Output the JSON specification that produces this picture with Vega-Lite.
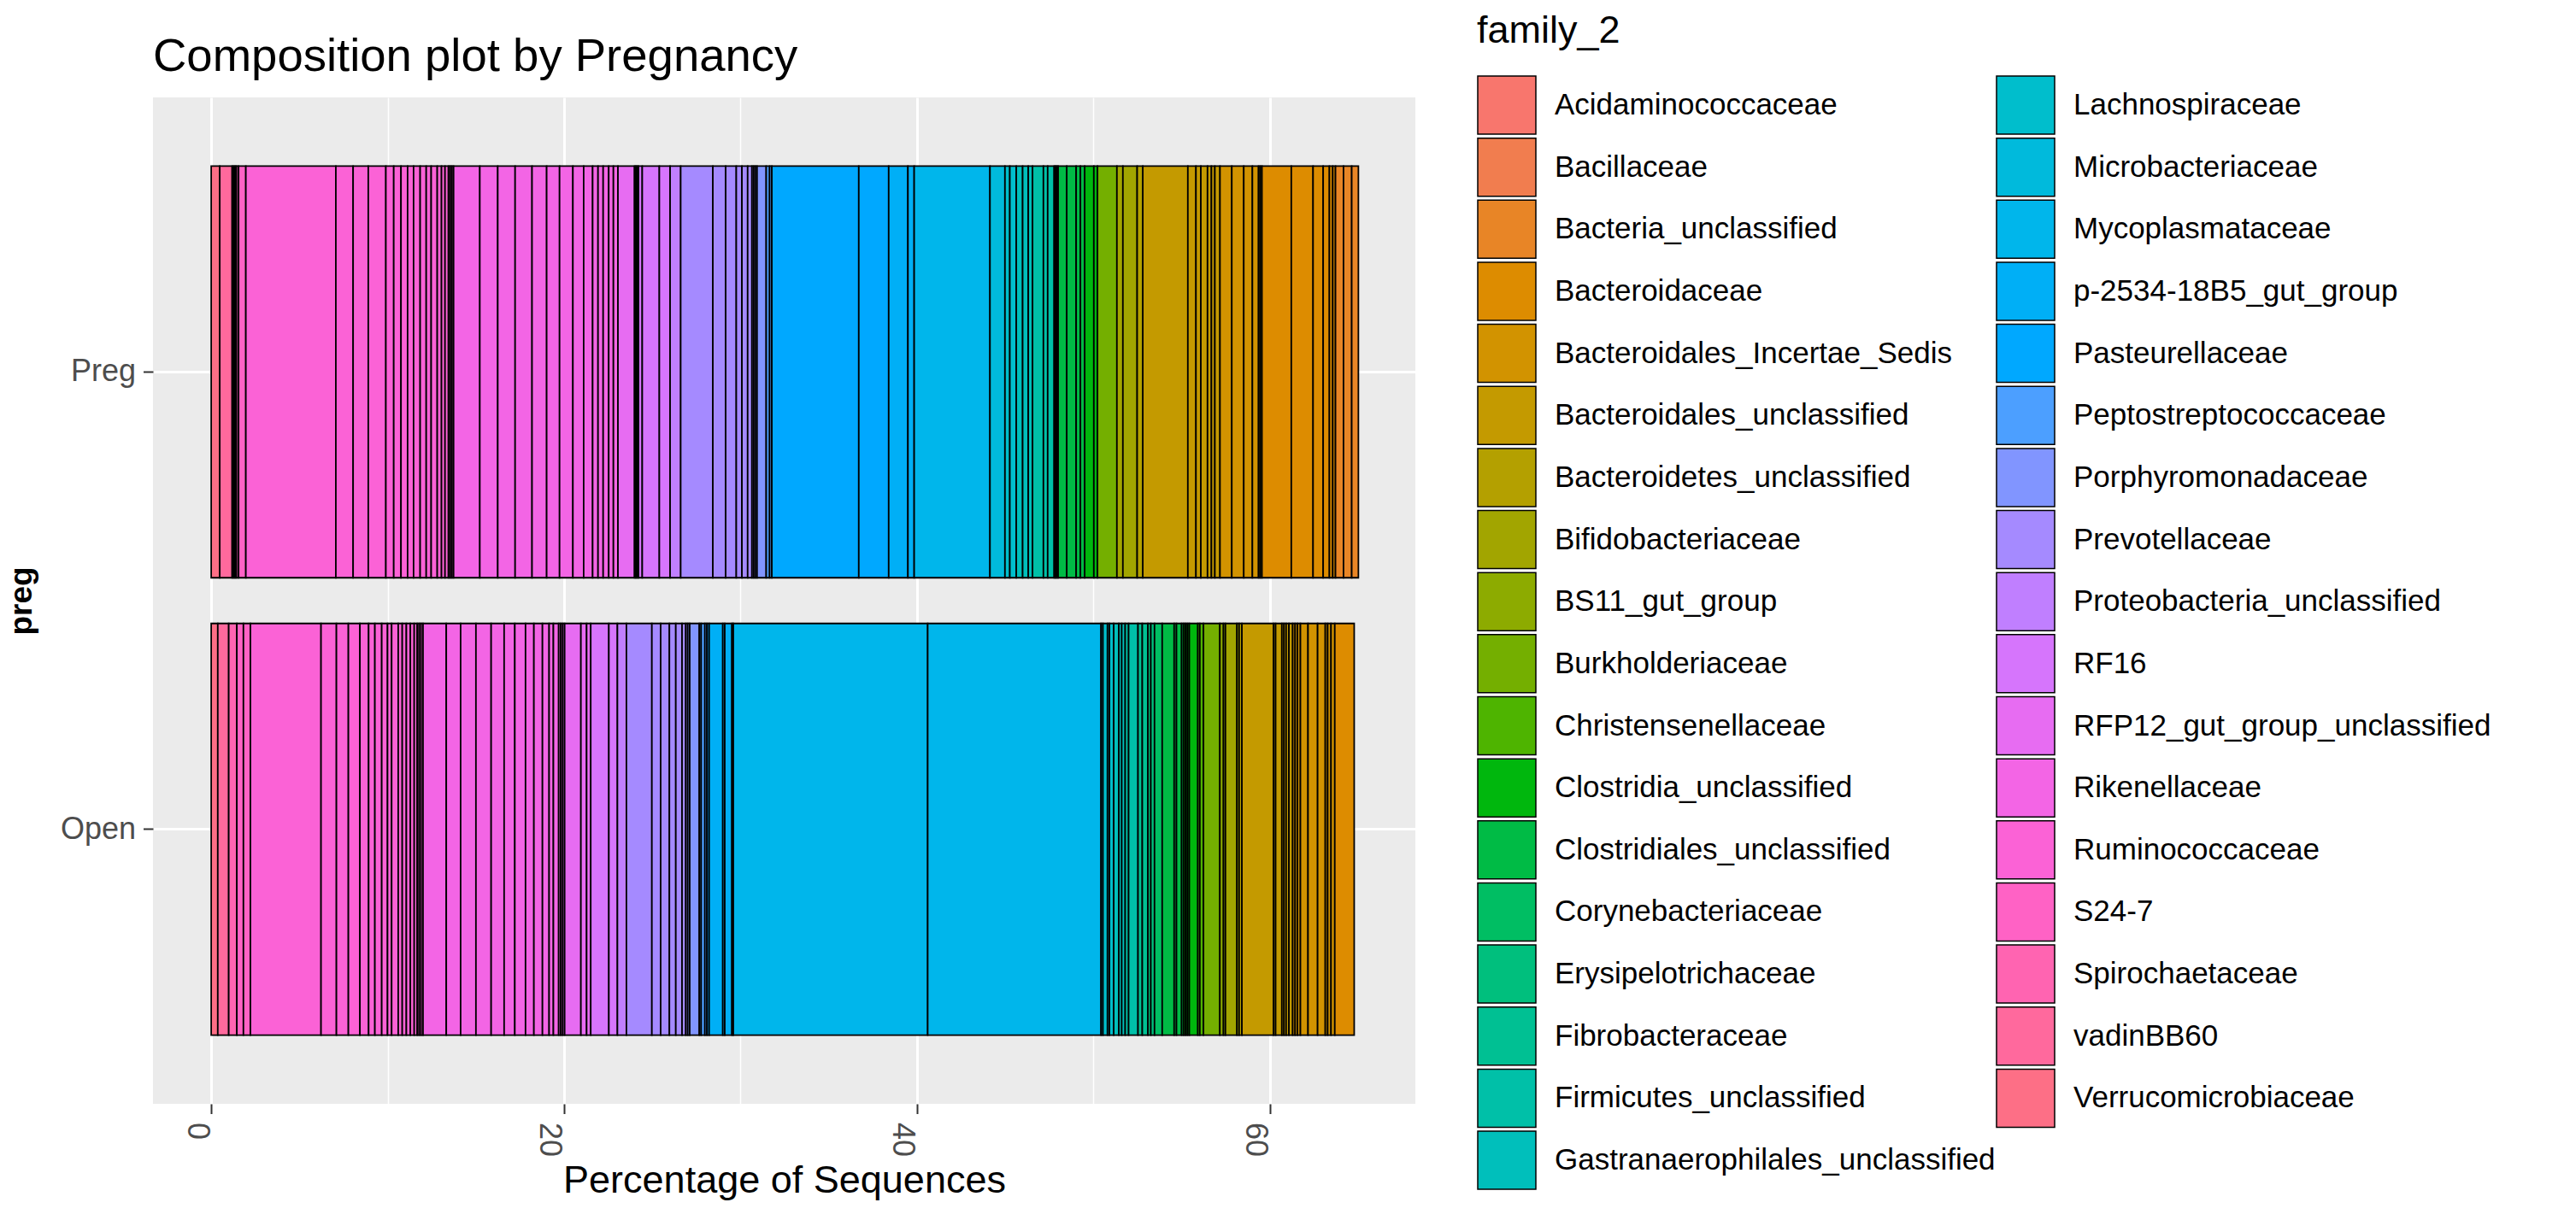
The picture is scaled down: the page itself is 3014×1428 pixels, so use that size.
{
  "$schema": "https://vega.github.io/schema/vega-lite/v6.json",
  "width": 1477,
  "height": 1178,
  "autosize": {"type": "none"},
  "padding": {"left": 179, "top": 114, "right": 1358, "bottom": 136},
  "background": "white",
  "config": {
    "font": "Liberation Sans",
    "view": {"fill": "#EBEBEB", "stroke": null}
  },
  "title": {
    "text": "Composition plot by Pregnancy",
    "anchor": "start",
    "frame": "group",
    "fontSize": 54.5,
    "fontWeight": "normal",
    "color": "black",
    "baseline": "alphabetic",
    "offset": -123
  },
  "data": {
    "values": [
      {"preg": "Preg", "seg": 1, "family_2": "Verrucomicrobiaceae", "pct": 0.485},
      {"preg": "Preg", "seg": 2, "family_2": "vadinBB60", "pct": 0.703},
      {"preg": "Preg", "seg": 3, "family_2": "Spirochaetaceae", "pct": 0.082},
      {"preg": "Preg", "seg": 4, "family_2": "Spirochaetaceae", "pct": 0.082},
      {"preg": "Preg", "seg": 5, "family_2": "Spirochaetaceae", "pct": 0.078},
      {"preg": "Preg", "seg": 6, "family_2": "S24-7", "pct": 0.121},
      {"preg": "Preg", "seg": 7, "family_2": "S24-7", "pct": 0.412},
      {"preg": "Preg", "seg": 8, "family_2": "Ruminococcaceae", "pct": 5.102},
      {"preg": "Preg", "seg": 9, "family_2": "Ruminococcaceae", "pct": 0.979},
      {"preg": "Preg", "seg": 10, "family_2": "Ruminococcaceae", "pct": 0.858},
      {"preg": "Preg", "seg": 11, "family_2": "Ruminococcaceae", "pct": 0.998},
      {"preg": "Preg", "seg": 12, "family_2": "Ruminococcaceae", "pct": 0.446},
      {"preg": "Preg", "seg": 13, "family_2": "Ruminococcaceae", "pct": 0.412},
      {"preg": "Preg", "seg": 14, "family_2": "Ruminococcaceae", "pct": 0.373},
      {"preg": "Preg", "seg": 15, "family_2": "Ruminococcaceae", "pct": 0.339},
      {"preg": "Preg", "seg": 16, "family_2": "Ruminococcaceae", "pct": 0.373},
      {"preg": "Preg", "seg": 17, "family_2": "Ruminococcaceae", "pct": 0.344},
      {"preg": "Preg", "seg": 18, "family_2": "Ruminococcaceae", "pct": 0.281},
      {"preg": "Preg", "seg": 19, "family_2": "Ruminococcaceae", "pct": 0.344},
      {"preg": "Preg", "seg": 20, "family_2": "Ruminococcaceae", "pct": 0.242},
      {"preg": "Preg", "seg": 21, "family_2": "Ruminococcaceae", "pct": 0.199},
      {"preg": "Preg", "seg": 22, "family_2": "Ruminococcaceae", "pct": 0.194},
      {"preg": "Preg", "seg": 23, "family_2": "Ruminococcaceae", "pct": 0.097},
      {"preg": "Preg", "seg": 24, "family_2": "Ruminococcaceae", "pct": 0.097},
      {"preg": "Preg", "seg": 25, "family_2": "Ruminococcaceae", "pct": 0.097},
      {"preg": "Preg", "seg": 26, "family_2": "Rikenellaceae", "pct": 1.487},
      {"preg": "Preg", "seg": 27, "family_2": "Rikenellaceae", "pct": 1.017},
      {"preg": "Preg", "seg": 28, "family_2": "Rikenellaceae", "pct": 0.984},
      {"preg": "Preg", "seg": 29, "family_2": "Rikenellaceae", "pct": 0.959},
      {"preg": "Preg", "seg": 30, "family_2": "Rikenellaceae", "pct": 0.828},
      {"preg": "Preg", "seg": 31, "family_2": "Rikenellaceae", "pct": 0.732},
      {"preg": "Preg", "seg": 32, "family_2": "Rikenellaceae", "pct": 0.756},
      {"preg": "Preg", "seg": 33, "family_2": "Rikenellaceae", "pct": 0.610},
      {"preg": "Preg", "seg": 34, "family_2": "Rikenellaceae", "pct": 0.509},
      {"preg": "Preg", "seg": 35, "family_2": "Rikenellaceae", "pct": 0.305},
      {"preg": "Preg", "seg": 36, "family_2": "Rikenellaceae", "pct": 0.291},
      {"preg": "Preg", "seg": 37, "family_2": "Rikenellaceae", "pct": 0.315},
      {"preg": "Preg", "seg": 38, "family_2": "Rikenellaceae", "pct": 0.266},
      {"preg": "Preg", "seg": 39, "family_2": "Rikenellaceae", "pct": 0.257},
      {"preg": "Preg", "seg": 40, "family_2": "RFP12_gut_group_unclassified", "pct": 0.940},
      {"preg": "Preg", "seg": 41, "family_2": "RFP12_gut_group_unclassified", "pct": 0.073},
      {"preg": "Preg", "seg": 42, "family_2": "RFP12_gut_group_unclassified", "pct": 0.073},
      {"preg": "Preg", "seg": 43, "family_2": "RF16", "pct": 0.078},
      {"preg": "Preg", "seg": 44, "family_2": "RF16", "pct": 0.213},
      {"preg": "Preg", "seg": 45, "family_2": "RF16", "pct": 0.969},
      {"preg": "Preg", "seg": 46, "family_2": "RF16", "pct": 0.610},
      {"preg": "Preg", "seg": 47, "family_2": "Proteobacteria_unclassified", "pct": 0.601},
      {"preg": "Preg", "seg": 48, "family_2": "Prevotellaceae", "pct": 1.822},
      {"preg": "Preg", "seg": 49, "family_2": "Prevotellaceae", "pct": 0.727},
      {"preg": "Preg", "seg": 50, "family_2": "Prevotellaceae", "pct": 0.601},
      {"preg": "Preg", "seg": 51, "family_2": "Prevotellaceae", "pct": 0.320},
      {"preg": "Preg", "seg": 52, "family_2": "Prevotellaceae", "pct": 0.325},
      {"preg": "Preg", "seg": 53, "family_2": "Prevotellaceae", "pct": 0.242},
      {"preg": "Preg", "seg": 54, "family_2": "Prevotellaceae", "pct": 0.097},
      {"preg": "Preg", "seg": 55, "family_2": "Prevotellaceae", "pct": 0.097},
      {"preg": "Preg", "seg": 56, "family_2": "Porphyromonadaceae", "pct": 0.097},
      {"preg": "Preg", "seg": 57, "family_2": "Porphyromonadaceae", "pct": 0.518},
      {"preg": "Preg", "seg": 58, "family_2": "Peptostreptococcaceae", "pct": 0.194},
      {"preg": "Preg", "seg": 59, "family_2": "Peptostreptococcaceae", "pct": 0.126},
      {"preg": "Preg", "seg": 60, "family_2": "Pasteurellaceae", "pct": 4.927},
      {"preg": "Preg", "seg": 61, "family_2": "Pasteurellaceae", "pct": 1.696},
      {"preg": "Preg", "seg": 62, "family_2": "p-2534-18B5_gut_group", "pct": 1.090},
      {"preg": "Preg", "seg": 63, "family_2": "p-2534-18B5_gut_group", "pct": 0.354},
      {"preg": "Preg", "seg": 64, "family_2": "Mycoplasmataceae", "pct": 4.297},
      {"preg": "Preg", "seg": 65, "family_2": "Microbacteriaceae", "pct": 0.848},
      {"preg": "Preg", "seg": 66, "family_2": "Lachnospiraceae", "pct": 0.276},
      {"preg": "Preg", "seg": 67, "family_2": "Lachnospiraceae", "pct": 0.368},
      {"preg": "Preg", "seg": 68, "family_2": "Gastranaerophilales_unclassified", "pct": 0.359},
      {"preg": "Preg", "seg": 69, "family_2": "Gastranaerophilales_unclassified", "pct": 0.320},
      {"preg": "Preg", "seg": 70, "family_2": "Gastranaerophilales_unclassified", "pct": 0.242},
      {"preg": "Preg", "seg": 71, "family_2": "Firmicutes_unclassified", "pct": 0.615},
      {"preg": "Preg", "seg": 72, "family_2": "Firmicutes_unclassified", "pct": 0.242},
      {"preg": "Preg", "seg": 73, "family_2": "Firmicutes_unclassified", "pct": 0.368},
      {"preg": "Preg", "seg": 74, "family_2": "Fibrobacteraceae", "pct": 0.073},
      {"preg": "Preg", "seg": 75, "family_2": "Erysipelotrichaceae", "pct": 0.073},
      {"preg": "Preg", "seg": 76, "family_2": "Corynebacteriaceae", "pct": 0.078},
      {"preg": "Preg", "seg": 77, "family_2": "Clostridiales_unclassified", "pct": 0.489},
      {"preg": "Preg", "seg": 78, "family_2": "Clostridiales_unclassified", "pct": 0.533},
      {"preg": "Preg", "seg": 79, "family_2": "Clostridiales_unclassified", "pct": 0.242},
      {"preg": "Preg", "seg": 80, "family_2": "Clostridiales_unclassified", "pct": 0.242},
      {"preg": "Preg", "seg": 81, "family_2": "Clostridia_unclassified", "pct": 0.518},
      {"preg": "Preg", "seg": 82, "family_2": "Clostridia_unclassified", "pct": 0.208},
      {"preg": "Preg", "seg": 83, "family_2": "Burkholderiaceae", "pct": 1.100},
      {"preg": "Preg", "seg": 84, "family_2": "Bifidobacteriaceae", "pct": 0.339},
      {"preg": "Preg", "seg": 85, "family_2": "Bifidobacteriaceae", "pct": 0.809},
      {"preg": "Preg", "seg": 86, "family_2": "Bacteroidetes_unclassified", "pct": 0.320},
      {"preg": "Preg", "seg": 87, "family_2": "Bacteroidales_unclassified", "pct": 2.553},
      {"preg": "Preg", "seg": 88, "family_2": "Bacteroidales_unclassified", "pct": 0.460},
      {"preg": "Preg", "seg": 89, "family_2": "Bacteroidales_unclassified", "pct": 0.276},
      {"preg": "Preg", "seg": 90, "family_2": "Bacteroidales_unclassified", "pct": 0.378},
      {"preg": "Preg", "seg": 91, "family_2": "Bacteroidales_unclassified", "pct": 0.223},
      {"preg": "Preg", "seg": 92, "family_2": "Bacteroidales_unclassified", "pct": 0.194},
      {"preg": "Preg", "seg": 93, "family_2": "Bacteroidales_unclassified", "pct": 0.291},
      {"preg": "Preg", "seg": 94, "family_2": "Bacteroidales_Incertae_Sedis", "pct": 0.669},
      {"preg": "Preg", "seg": 95, "family_2": "Bacteroidales_Incertae_Sedis", "pct": 0.678},
      {"preg": "Preg", "seg": 96, "family_2": "Bacteroidales_Incertae_Sedis", "pct": 0.489},
      {"preg": "Preg", "seg": 97, "family_2": "Bacteroidales_Incertae_Sedis", "pct": 0.349},
      {"preg": "Preg", "seg": 98, "family_2": "Bacteroidales_Incertae_Sedis", "pct": 0.097},
      {"preg": "Preg", "seg": 99, "family_2": "Bacteroidales_Incertae_Sedis", "pct": 0.097},
      {"preg": "Preg", "seg": 100, "family_2": "Bacteroidaceae", "pct": 1.662},
      {"preg": "Preg", "seg": 101, "family_2": "Bacteroidaceae", "pct": 1.235},
      {"preg": "Preg", "seg": 102, "family_2": "Bacteroidaceae", "pct": 0.572},
      {"preg": "Preg", "seg": 103, "family_2": "Bacteroidaceae", "pct": 0.354},
      {"preg": "Preg", "seg": 104, "family_2": "Bacteroidaceae", "pct": 0.189},
      {"preg": "Preg", "seg": 105, "family_2": "Bacteroidaceae", "pct": 0.155},
      {"preg": "Preg", "seg": 106, "family_2": "Bacteria_unclassified", "pct": 0.455},
      {"preg": "Preg", "seg": 107, "family_2": "Bacteria_unclassified", "pct": 0.465},
      {"preg": "Preg", "seg": 108, "family_2": "Bacteria_unclassified", "pct": 0.378},
      {"preg": "Open", "seg": 1, "family_2": "Verrucomicrobiaceae", "pct": 0.373},
      {"preg": "Open", "seg": 2, "family_2": "vadinBB60", "pct": 0.620},
      {"preg": "Open", "seg": 3, "family_2": "Spirochaetaceae", "pct": 0.460},
      {"preg": "Open", "seg": 4, "family_2": "S24-7", "pct": 0.373},
      {"preg": "Open", "seg": 5, "family_2": "S24-7", "pct": 0.397},
      {"preg": "Open", "seg": 6, "family_2": "Ruminococcaceae", "pct": 4.002},
      {"preg": "Open", "seg": 7, "family_2": "Ruminococcaceae", "pct": 0.872},
      {"preg": "Open", "seg": 8, "family_2": "Ruminococcaceae", "pct": 0.678},
      {"preg": "Open", "seg": 9, "family_2": "Ruminococcaceae", "pct": 0.654},
      {"preg": "Open", "seg": 10, "family_2": "Ruminococcaceae", "pct": 0.494},
      {"preg": "Open", "seg": 11, "family_2": "Ruminococcaceae", "pct": 0.354},
      {"preg": "Open", "seg": 12, "family_2": "Ruminococcaceae", "pct": 0.388},
      {"preg": "Open", "seg": 13, "family_2": "Ruminococcaceae", "pct": 0.329},
      {"preg": "Open", "seg": 14, "family_2": "Ruminococcaceae", "pct": 0.233},
      {"preg": "Open", "seg": 15, "family_2": "Ruminococcaceae", "pct": 0.373},
      {"preg": "Open", "seg": 16, "family_2": "Ruminococcaceae", "pct": 0.228},
      {"preg": "Open", "seg": 17, "family_2": "Ruminococcaceae", "pct": 0.233},
      {"preg": "Open", "seg": 18, "family_2": "Ruminococcaceae", "pct": 0.228},
      {"preg": "Open", "seg": 19, "family_2": "Ruminococcaceae", "pct": 0.218},
      {"preg": "Open", "seg": 20, "family_2": "Ruminococcaceae", "pct": 0.170},
      {"preg": "Open", "seg": 21, "family_2": "Ruminococcaceae", "pct": 0.111},
      {"preg": "Open", "seg": 22, "family_2": "Ruminococcaceae", "pct": 0.107},
      {"preg": "Open", "seg": 23, "family_2": "Ruminococcaceae", "pct": 0.111},
      {"preg": "Open", "seg": 24, "family_2": "Rikenellaceae", "pct": 1.318},
      {"preg": "Open", "seg": 25, "family_2": "Rikenellaceae", "pct": 0.814},
      {"preg": "Open", "seg": 26, "family_2": "Rikenellaceae", "pct": 0.867},
      {"preg": "Open", "seg": 27, "family_2": "Rikenellaceae", "pct": 0.862},
      {"preg": "Open", "seg": 28, "family_2": "Rikenellaceae", "pct": 0.736},
      {"preg": "Open", "seg": 29, "family_2": "Rikenellaceae", "pct": 0.606},
      {"preg": "Open", "seg": 30, "family_2": "Rikenellaceae", "pct": 0.606},
      {"preg": "Open", "seg": 31, "family_2": "Rikenellaceae", "pct": 0.475},
      {"preg": "Open", "seg": 32, "family_2": "Rikenellaceae", "pct": 0.485},
      {"preg": "Open", "seg": 33, "family_2": "Rikenellaceae", "pct": 0.378},
      {"preg": "Open", "seg": 34, "family_2": "Rikenellaceae", "pct": 0.242},
      {"preg": "Open", "seg": 35, "family_2": "Rikenellaceae", "pct": 0.300},
      {"preg": "Open", "seg": 36, "family_2": "Rikenellaceae", "pct": 0.111},
      {"preg": "Open", "seg": 37, "family_2": "Rikenellaceae", "pct": 0.116},
      {"preg": "Open", "seg": 38, "family_2": "RFP12_gut_group_unclassified", "pct": 0.111},
      {"preg": "Open", "seg": 39, "family_2": "RFP12_gut_group_unclassified", "pct": 0.921},
      {"preg": "Open", "seg": 40, "family_2": "RFP12_gut_group_unclassified", "pct": 0.325},
      {"preg": "Open", "seg": 41, "family_2": "RFP12_gut_group_unclassified", "pct": 0.233},
      {"preg": "Open", "seg": 42, "family_2": "RF16", "pct": 1.027},
      {"preg": "Open", "seg": 43, "family_2": "RF16", "pct": 0.485},
      {"preg": "Open", "seg": 44, "family_2": "Proteobacteria_unclassified", "pct": 0.509},
      {"preg": "Open", "seg": 45, "family_2": "Prevotellaceae", "pct": 1.444},
      {"preg": "Open", "seg": 46, "family_2": "Prevotellaceae", "pct": 0.499},
      {"preg": "Open", "seg": 47, "family_2": "Prevotellaceae", "pct": 0.494},
      {"preg": "Open", "seg": 48, "family_2": "Prevotellaceae", "pct": 0.363},
      {"preg": "Open", "seg": 49, "family_2": "Prevotellaceae", "pct": 0.354},
      {"preg": "Open", "seg": 50, "family_2": "Prevotellaceae", "pct": 0.213},
      {"preg": "Open", "seg": 51, "family_2": "Prevotellaceae", "pct": 0.111},
      {"preg": "Open", "seg": 52, "family_2": "Porphyromonadaceae", "pct": 0.111},
      {"preg": "Open", "seg": 53, "family_2": "Porphyromonadaceae", "pct": 0.543},
      {"preg": "Open", "seg": 54, "family_2": "Peptostreptococcaceae", "pct": 0.107},
      {"preg": "Open", "seg": 55, "family_2": "Peptostreptococcaceae", "pct": 0.208},
      {"preg": "Open", "seg": 56, "family_2": "Peptostreptococcaceae", "pct": 0.121},
      {"preg": "Open", "seg": 57, "family_2": "Pasteurellaceae", "pct": 0.121},
      {"preg": "Open", "seg": 58, "family_2": "p-2534-18B5_gut_group", "pct": 0.775},
      {"preg": "Open", "seg": 59, "family_2": "p-2534-18B5_gut_group", "pct": 0.111},
      {"preg": "Open", "seg": 60, "family_2": "p-2534-18B5_gut_group", "pct": 0.407},
      {"preg": "Open", "seg": 61, "family_2": "p-2534-18B5_gut_group", "pct": 0.078},
      {"preg": "Open", "seg": 62, "family_2": "Mycoplasmataceae", "pct": 11.018},
      {"preg": "Open", "seg": 63, "family_2": "Mycoplasmataceae", "pct": 9.826},
      {"preg": "Open", "seg": 64, "family_2": "Microbacteriaceae", "pct": 0.107},
      {"preg": "Open", "seg": 65, "family_2": "Lachnospiraceae", "pct": 0.257},
      {"preg": "Open", "seg": 66, "family_2": "Lachnospiraceae", "pct": 0.111},
      {"preg": "Open", "seg": 67, "family_2": "Lachnospiraceae", "pct": 0.242},
      {"preg": "Open", "seg": 68, "family_2": "Gastranaerophilales_unclassified", "pct": 0.291},
      {"preg": "Open", "seg": 69, "family_2": "Gastranaerophilales_unclassified", "pct": 0.165},
      {"preg": "Open", "seg": 70, "family_2": "Gastranaerophilales_unclassified", "pct": 0.194},
      {"preg": "Open", "seg": 71, "family_2": "Firmicutes_unclassified", "pct": 0.194},
      {"preg": "Open", "seg": 72, "family_2": "Firmicutes_unclassified", "pct": 0.533},
      {"preg": "Open", "seg": 73, "family_2": "Fibrobacteraceae", "pct": 0.242},
      {"preg": "Open", "seg": 74, "family_2": "Fibrobacteraceae", "pct": 0.320},
      {"preg": "Open", "seg": 75, "family_2": "Erysipelotrichaceae", "pct": 0.165},
      {"preg": "Open", "seg": 76, "family_2": "Erysipelotrichaceae", "pct": 0.208},
      {"preg": "Open", "seg": 77, "family_2": "Corynebacteriaceae", "pct": 0.436},
      {"preg": "Open", "seg": 78, "family_2": "Clostridiales_unclassified", "pct": 0.678},
      {"preg": "Open", "seg": 79, "family_2": "Clostridiales_unclassified", "pct": 0.131},
      {"preg": "Open", "seg": 80, "family_2": "Clostridiales_unclassified", "pct": 0.291},
      {"preg": "Open", "seg": 81, "family_2": "Clostridiales_unclassified", "pct": 0.111},
      {"preg": "Open", "seg": 82, "family_2": "Clostridia_unclassified", "pct": 0.107},
      {"preg": "Open", "seg": 83, "family_2": "Clostridia_unclassified", "pct": 0.111},
      {"preg": "Open", "seg": 84, "family_2": "Clostridia_unclassified", "pct": 0.107},
      {"preg": "Open", "seg": 85, "family_2": "Clostridia_unclassified", "pct": 0.485},
      {"preg": "Open", "seg": 86, "family_2": "Christensenellaceae", "pct": 0.111},
      {"preg": "Open", "seg": 87, "family_2": "Christensenellaceae", "pct": 0.208},
      {"preg": "Open", "seg": 88, "family_2": "Burkholderiaceae", "pct": 0.930},
      {"preg": "Open", "seg": 89, "family_2": "BS11_gut_group", "pct": 0.203},
      {"preg": "Open", "seg": 90, "family_2": "BS11_gut_group", "pct": 0.111},
      {"preg": "Open", "seg": 91, "family_2": "Bifidobacteriaceae", "pct": 0.654},
      {"preg": "Open", "seg": 92, "family_2": "Bifidobacteriaceae", "pct": 0.121},
      {"preg": "Open", "seg": 93, "family_2": "Bacteroidetes_unclassified", "pct": 0.160},
      {"preg": "Open", "seg": 94, "family_2": "Bacteroidales_unclassified", "pct": 1.793},
      {"preg": "Open", "seg": 95, "family_2": "Bacteroidales_unclassified", "pct": 0.116},
      {"preg": "Open", "seg": 96, "family_2": "Bacteroidales_unclassified", "pct": 0.354},
      {"preg": "Open", "seg": 97, "family_2": "Bacteroidales_unclassified", "pct": 0.121},
      {"preg": "Open", "seg": 98, "family_2": "Bacteroidales_unclassified", "pct": 0.121},
      {"preg": "Open", "seg": 99, "family_2": "Bacteroidales_unclassified", "pct": 0.160},
      {"preg": "Open", "seg": 100, "family_2": "Bacteroidales_unclassified", "pct": 0.213},
      {"preg": "Open", "seg": 101, "family_2": "Bacteroidales_Incertae_Sedis", "pct": 0.136},
      {"preg": "Open", "seg": 102, "family_2": "Bacteroidales_Incertae_Sedis", "pct": 0.136},
      {"preg": "Open", "seg": 103, "family_2": "Bacteroidales_Incertae_Sedis", "pct": 0.165},
      {"preg": "Open", "seg": 104, "family_2": "Bacteroidales_Incertae_Sedis", "pct": 0.431},
      {"preg": "Open", "seg": 105, "family_2": "Bacteroidales_Incertae_Sedis", "pct": 0.543},
      {"preg": "Open", "seg": 106, "family_2": "Bacteroidales_Incertae_Sedis", "pct": 0.436},
      {"preg": "Open", "seg": 107, "family_2": "Bacteroidales_Incertae_Sedis", "pct": 0.136},
      {"preg": "Open", "seg": 108, "family_2": "Bacteroidales_Incertae_Sedis", "pct": 0.189},
      {"preg": "Open", "seg": 109, "family_2": "Bacteroidales_Incertae_Sedis", "pct": 0.213},
      {"preg": "Open", "seg": 110, "family_2": "Bacteroidaceae", "pct": 1.100}
    ]
  },
  "mark": {"type": "bar", "stroke": "black", "strokeWidth": 1.8},
  "encoding": {
    "y": {
      "field": "preg",
      "type": "nominal",
      "sort": ["Preg", "Open"],
      "scale": {"paddingInner": 0.1, "paddingOuter": 0.15},
      "axis": {
        "title": "preg",
        "titleFontSize": 37,
        "titleFontWeight": "bold",
        "titleColor": "black",
        "titleAngle": 270,
        "titleAlign": "center",
        "titleBaseline": "alphabetic",
        "titleX": -143,
        "titleY": 589,
        "labelFontSize": 36,
        "labelColor": "#4D4D4D",
        "labelPadding": 9,
        "tickSize": 11.5,
        "tickWidth": 2,
        "tickColor": "#333333",
        "domain": false,
        "grid": true,
        "gridColor": "white",
        "gridWidth": 3,
        "bandPosition": 0.5
      }
    },
    "x": {
      "field": "pct",
      "type": "quantitative",
      "stack": "zero",
      "scale": {"domain": [-3.3, 68.25], "nice": false, "zero": false},
      "axis": {
        "values": [0, 10, 20, 30, 40, 50, 60],
        "labelExpr": "datum.value % 20 === 0 ? datum.label : ''",
        "labelAngle": 90,
        "labelAlign": "left",
        "labelBaseline": "top",
        "labelFontSize": 36,
        "labelColor": "#4D4D4D",
        "labelPadding": 10,
        "labelOverlap": false,
        "labelFlush": false,
        "tickSize": 11.5,
        "tickWidth": 2,
        "tickColor": "#333333",
        "tickOpacity": {"condition": {"test": "datum.value % 20 === 0", "value": 1}, "value": 0},
        "grid": true,
        "gridColor": "white",
        "gridWidth": {"condition": {"test": "datum.value % 20 === 0", "value": 3}, "value": 1.5},
        "domain": false,
        "title": "Percentage of Sequences",
        "titleFontSize": 45,
        "titleFontWeight": "normal",
        "titleColor": "black",
        "titleBaseline": "alphabetic",
        "titleX": 738.5,
        "titleY": 103
      }
    },
    "order": {"field": "seg", "type": "quantitative"},
    "color": {
      "field": "family_2",
      "type": "nominal",
      "scale": {
        "domain": ["Acidaminococcaceae", "Bacillaceae", "Bacteria_unclassified", "Bacteroidaceae", "Bacteroidales_Incertae_Sedis", "Bacteroidales_unclassified", "Bacteroidetes_unclassified", "Bifidobacteriaceae", "BS11_gut_group", "Burkholderiaceae", "Christensenellaceae", "Clostridia_unclassified", "Clostridiales_unclassified", "Corynebacteriaceae", "Erysipelotrichaceae", "Fibrobacteraceae", "Firmicutes_unclassified", "Gastranaerophilales_unclassified", "Lachnospiraceae", "Microbacteriaceae", "Mycoplasmataceae", "p-2534-18B5_gut_group", "Pasteurellaceae", "Peptostreptococcaceae", "Porphyromonadaceae", "Prevotellaceae", "Proteobacteria_unclassified", "RF16", "RFP12_gut_group_unclassified", "Rikenellaceae", "Ruminococcaceae", "S24-7", "Spirochaetaceae", "vadinBB60", "Verrucomicrobiaceae"],
        "range": ["#F8766D", "#F17D4F", "#E88526", "#DD8C00", "#D29300", "#C49A00", "#B4A000", "#A2A500", "#8DAB00", "#74AF00", "#4EB400", "#00B70D", "#00BB45", "#00BE63", "#00BF7D", "#00C093", "#00C0A8", "#00BFBB", "#00BECC", "#00BADC", "#00B6EB", "#00AFF6", "#00A8FF", "#4C9FFF", "#8195FF", "#A58AFF", "#C07FFF", "#D675FC", "#E76CF2", "#F365E5", "#FB62D6", "#FF62C5", "#FF64B1", "#FF699D", "#FD6F86"]
      },
      "legend": {
        "orient": "none",
        "legendX": 1549,
        "legendY": -100,
        "columns": 2,
        "symbolLimit": 40,
        "title": "family_2",
        "titleFontSize": 45,
        "titleFontWeight": "normal",
        "titleColor": "black",
        "titleAnchor": "start",
        "titlePadding": 29,
        "symbolType": "square",
        "symbolSize": 4624,
        "symbolStrokeColor": "black",
        "symbolStrokeWidth": 1.5,
        "symbolOpacity": 1,
        "labelFontSize": 35,
        "labelColor": "black",
        "labelOffset": 21,
        "rowPadding": -1.35,
        "columnPadding": -40,
        "labelLimit": 0
      }
    }
  }
}
